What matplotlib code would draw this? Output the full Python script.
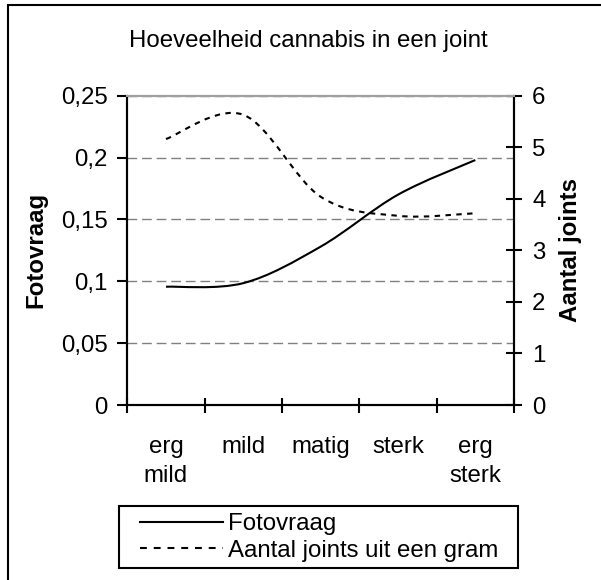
import numpy as np
import matplotlib
matplotlib.use("Agg")
import matplotlib.pyplot as plt
from matplotlib.path import Path
from matplotlib.patches import PathPatch, Rectangle
from matplotlib.lines import Line2D

# ----------------------------------------------------------
# Data
# ----------------------------------------------------------

categories = ["erg\nmild", "mild", "matig", "sterk", "erg\nsterk"]

fotovraag = [0.0956, 0.0985, 0.128, 0.170, 0.198]
aantal_joints = [5.16, 5.63, 4.04, 3.67, 3.72]

left_ticks = [0, 0.05, 0.1, 0.15, 0.2, 0.25]
left_labels = ["0", "0,05", "0,1", "0,15", "0,2", "0,25"]
right_ticks = [0, 1, 2, 3, 4, 5, 6]

title = "Hoeveelheid cannabis in een joint"
left_name = "Fotovraag"
right_name = "Aantal joints"
legend_names = ["Fotovraag", "Aantal joints uit een gram"]

# ----------------------------------------------------------
# Style
# ----------------------------------------------------------

W, H = 601, 580
FS = 17.3  # ~24 px at dpi 100

plt.rcParams["font.family"] = ["Liberation Sans", "DejaVu Sans"]
plt.rcParams["font.size"] = FS


def px(x, y):
    # pixel position (from top-left) to figure fraction
    return x / W, 1 - y / H


def smooth_path(xs, ys):
    # Excel-style smoothed line: Catmull-Rom segments as cubic Bezier
    p = np.column_stack([xs, ys]).astype(float)
    p_ext = np.vstack([p[0], p, p[-1]])
    verts = [tuple(p[0])]
    codes = [Path.MOVETO]
    for i in range(len(p) - 1):
        a, b, c, d = p_ext[i], p_ext[i + 1], p_ext[i + 2], p_ext[i + 3]
        c1 = b + (c - a) / 6
        c2 = c - (d - b) / 6
        verts += [tuple(c1), tuple(c2), tuple(c)]
        codes += [Path.CURVE4] * 3
    return Path(verts, codes)


fig = plt.figure(figsize=(W / 100, H / 100), dpi=100)

ax = fig.add_axes([127.3 / W, 1 - 405 / H, (514 - 127.3) / W, (405 - 95.7) / H])
ax2 = ax.twinx()

x = np.arange(len(categories))

# ----------------------------------------------------------
# Series
# ----------------------------------------------------------

ax.add_patch(PathPatch(smooth_path(x, fotovraag), fill=False,
                       edgecolor="black", lw=1.5, capstyle="butt", zorder=3))
ax2.add_patch(PathPatch(smooth_path(x, aantal_joints), fill=False,
                        edgecolor="black", lw=1.5, linestyle=(0, (2.6, 2.6)),
                        capstyle="butt", zorder=3))

# ----------------------------------------------------------
# Axes
# ----------------------------------------------------------

ax.set_xlim(-0.5, len(categories) - 0.5)
ax.set_ylim(0, 0.25)
ax2.set_ylim(0, 6)

ax.set_xticks(np.arange(-0.5, len(categories), 1))
ax.set_xticklabels([])
ax.set_xticks(x, minor=True)
ax.set_xticklabels(categories, minor=True, linespacing=1.43)
ax.tick_params(axis="x", which="major", direction="inout", length=10.8, width=1.5)
ax.tick_params(axis="x", which="minor", length=0, pad=22.3)

ax.set_yticks(left_ticks)
ax.set_yticklabels(left_labels)
ax.tick_params(axis="y", direction="out", length=7.2, width=1.5, pad=7)

ax2.set_yticks(right_ticks)
ax2.tick_params(axis="y", direction="inout", length=12.2, width=1.5, pad=7)

ax.yaxis.grid(True, color="#808080", lw=1, linestyle=(0, (7, 3.5)))
ax.set_axisbelow(True)

for a in (ax, ax2):
    for s in a.spines.values():
        s.set_linewidth(1.5)
    a.spines["top"].set_color("#a0a0a0")

# ----------------------------------------------------------
# Texts
# ----------------------------------------------------------

fig.text(*px(308, 47), title, ha="center", va="baseline")
fig.text(*px(36, 250), left_name, rotation=90, ha="center", va="center",
         fontweight="bold")
fig.text(*px(570, 250), right_name, rotation=90, ha="center", va="center",
         fontweight="bold")

# ----------------------------------------------------------
# Legend
# ----------------------------------------------------------

handles = [
    Line2D([], [], color="black", lw=1.5),
    Line2D([], [], color="black", lw=1.5, linestyle=(0, (3.3, 3.3))),
]
fig.legend(handles, legend_names, loc="upper left",
           bbox_to_anchor=px(140, 513), frameon=False, borderpad=0,
           handlelength=83 / 24, handletextpad=0.2, labelspacing=0.2,
           borderaxespad=0)

fig.patches.append(Rectangle(px(119, 568), (518 - 119) / W, (568 - 506) / H,
                             transform=fig.transFigure, fill=False,
                             edgecolor="black", lw=1.5))

# outer chart border (only left and top visible)
fig.patches.append(Rectangle(px(7.5, 700), 1.0, (700 - 5) / H,
                             transform=fig.transFigure, fill=False,
                             edgecolor="black", lw=1.5))

fig.savefig("out.png", dpi=100)
